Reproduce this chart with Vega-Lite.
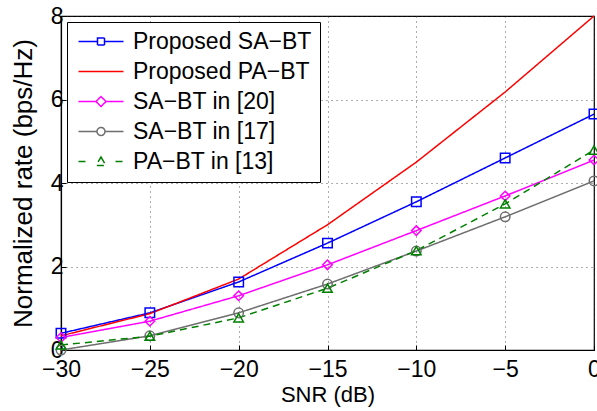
{
  "$schema": "https://vega.github.io/schema/vega-lite/v6.json",
  "width": 533,
  "height": 334,
  "autosize": "none",
  "padding": {"left": 61, "top": 16, "right": 3, "bottom": 61},
  "background": "white",
  "config": {
    "font": "Liberation Sans",
    "view": {"stroke": "black", "strokeWidth": 1.2},
    "axis": {
      "labelFont": "Liberation Sans",
      "labelFontSize": 23,
      "labelColor": "black",
      "labelFlush": false,
      "titleFont": "Liberation Sans",
      "titleFontWeight": "normal",
      "titleColor": "black",
      "domainColor": "black",
      "domainWidth": 1.2,
      "tickColor": "black",
      "tickSize": -5,
      "gridColor": "#333333",
      "gridDash": [1, 4],
      "gridWidth": 1,
      "gridOpacity": 0.8
    }
  },
  "data": {
    "values": [
      {"snr": -30, "rate": 0.40, "series": "Proposed SA−BT"},
      {"snr": -25, "rate": 0.89, "series": "Proposed SA−BT"},
      {"snr": -20, "rate": 1.63, "series": "Proposed SA−BT"},
      {"snr": -15, "rate": 2.56, "series": "Proposed SA−BT"},
      {"snr": -10, "rate": 3.55, "series": "Proposed SA−BT"},
      {"snr": -5, "rate": 4.60, "series": "Proposed SA−BT"},
      {"snr": 0, "rate": 5.65, "series": "Proposed SA−BT"},
      {"snr": -30, "rate": 0.34, "series": "Proposed PA−BT"},
      {"snr": -25, "rate": 0.87, "series": "Proposed PA−BT"},
      {"snr": -20, "rate": 1.70, "series": "Proposed PA−BT"},
      {"snr": -15, "rate": 3.00, "series": "Proposed PA−BT"},
      {"snr": -10, "rate": 4.50, "series": "Proposed PA−BT"},
      {"snr": -5, "rate": 6.18, "series": "Proposed PA−BT"},
      {"snr": 0, "rate": 8.00, "series": "Proposed PA−BT"},
      {"snr": -30, "rate": 0.30, "series": "SA−BT in [20]"},
      {"snr": -25, "rate": 0.69, "series": "SA−BT in [20]"},
      {"snr": -20, "rate": 1.30, "series": "SA−BT in [20]"},
      {"snr": -15, "rate": 2.04, "series": "SA−BT in [20]"},
      {"snr": -10, "rate": 2.86, "series": "SA−BT in [20]"},
      {"snr": -5, "rate": 3.69, "series": "SA−BT in [20]"},
      {"snr": 0, "rate": 4.55, "series": "SA−BT in [20]"},
      {"snr": -30, "rate": 0.00, "series": "SA−BT in [17]"},
      {"snr": -25, "rate": 0.34, "series": "SA−BT in [17]"},
      {"snr": -20, "rate": 0.89, "series": "SA−BT in [17]"},
      {"snr": -15, "rate": 1.58, "series": "SA−BT in [17]"},
      {"snr": -10, "rate": 2.37, "series": "SA−BT in [17]"},
      {"snr": -5, "rate": 3.19, "series": "SA−BT in [17]"},
      {"snr": 0, "rate": 4.05, "series": "SA−BT in [17]"},
      {"snr": -30, "rate": 0.12, "series": "PA−BT in [13]"},
      {"snr": -25, "rate": 0.33, "series": "PA−BT in [13]"},
      {"snr": -20, "rate": 0.77, "series": "PA−BT in [13]"},
      {"snr": -15, "rate": 1.48, "series": "PA−BT in [13]"},
      {"snr": -10, "rate": 2.38, "series": "PA−BT in [13]"},
      {"snr": -5, "rate": 3.50, "series": "PA−BT in [13]"},
      {"snr": 0, "rate": 4.79, "series": "PA−BT in [13]"}
    ]
  },
  "encoding": {
    "x": {
      "field": "snr", "type": "quantitative",
      "scale": {"domain": [-30, 0], "nice": false},
      "axis": {
        "values": [-30, -25, -20, -15, -10, -5, 0],
        "title": "SNR (dB)",
        "titleFontSize": 22,
        "labelPadding": 13,
        "titlePadding": 3,
        "labelExpr": "datum.value < 0 ? datum.label + '\u00a0\u00a0\u00a0' : datum.label"
      }
    },
    "y": {
      "field": "rate", "type": "quantitative",
      "scale": {"domain": [0, 8], "nice": false},
      "axis": {"values": [0, 2, 4, 6, 8], "title": "Normalized rate (bps/Hz)", "titleFontSize": 26, "labelPadding": 3, "titlePadding": 14}
    },
    "color": {
      "field": "series", "type": "nominal",
      "scale": {
        "domain": ["Proposed SA−BT", "Proposed PA−BT", "SA−BT in [20]", "SA−BT in [17]", "PA−BT in [13]"],
        "range": ["#0000ff", "#ff0000", "#ff00ff", "#6e6e6e", "#008000"]
      }
    }
  },
  "layer": [
    {
      "mark": {"type": "line", "strokeWidth": 1.5, "clip": false},
      "encoding": {
        "strokeDash": {
          "field": "series", "type": "nominal",
          "scale": {
            "domain": ["Proposed SA−BT", "Proposed PA−BT", "SA−BT in [20]", "SA−BT in [17]", "PA−BT in [13]"],
            "range": [[1, 0], [1, 0], [1, 0], [1, 0], [7, 5]]
          },
          "legend": null
        },
        "color": {
          "field": "series", "type": "nominal",
          "legend": {
            "title": null,
            "orient": "top-left",
            "offset": 6,
            "fillColor": "white",
            "strokeColor": "black",
            "padding": 8,
            "labelFont": "Liberation Sans",
            "labelFontSize": 23,
            "labelColor": "black",
            "labelOffset": 35,
            "labelLimit": 400,
            "symbolSize": 400,
            "symbolStrokeWidth": 1.5,
            "rowPadding": 6,
            "encode": {
              "symbols": {
                "update": {
                  "shape": {"signal": "datum.value === 'Proposed SA−BT' ? 'M-0.8,0H1.1M1.8,0H3.7M1.1,-0.35H1.8V0.35H1.1Z' : datum.value === 'Proposed PA−BT' ? 'M-0.8,0H3.7' : datum.value === 'SA−BT in [20]' ? 'M-0.8,0H0.95M1.95,0H3.7M1.45,-0.5L1.95,0L1.45,0.5L0.95,0Z' : datum.value === 'SA−BT in [17]' ? 'M-0.8,0H1.05M1.85,0H3.7M1.05,0A0.4,0.4 0 1,0 1.85,0A0.4,0.4 0 1,0 1.05,0Z' : 'M-0.8,0H0M2.9,0H3.7M1.45,-0.45L1.95,0.4H0.95Z'"},
                  "fill": {"value": "transparent"},
                  "strokeDash": {"value": [1, 0]}
                }
              }
            }
          }
        }
      }
    },
    {
      "transform": [{"filter": "datum.series !== 'Proposed PA−BT'"}],
      "mark": {"type": "point", "filled": false, "strokeWidth": 1.5, "size": 90, "opacity": 1, "clip": false},
      "encoding": {
        "shape": {
          "field": "series", "type": "nominal",
          "scale": {
            "domain": ["Proposed SA−BT", "SA−BT in [20]", "SA−BT in [17]", "PA−BT in [13]"],
            "range": ["square", "diamond", "circle", "triangle-up"]
          },
          "legend": null
        },
        "color": {"field": "series", "type": "nominal", "legend": null}
      }
    }
  ]
}
